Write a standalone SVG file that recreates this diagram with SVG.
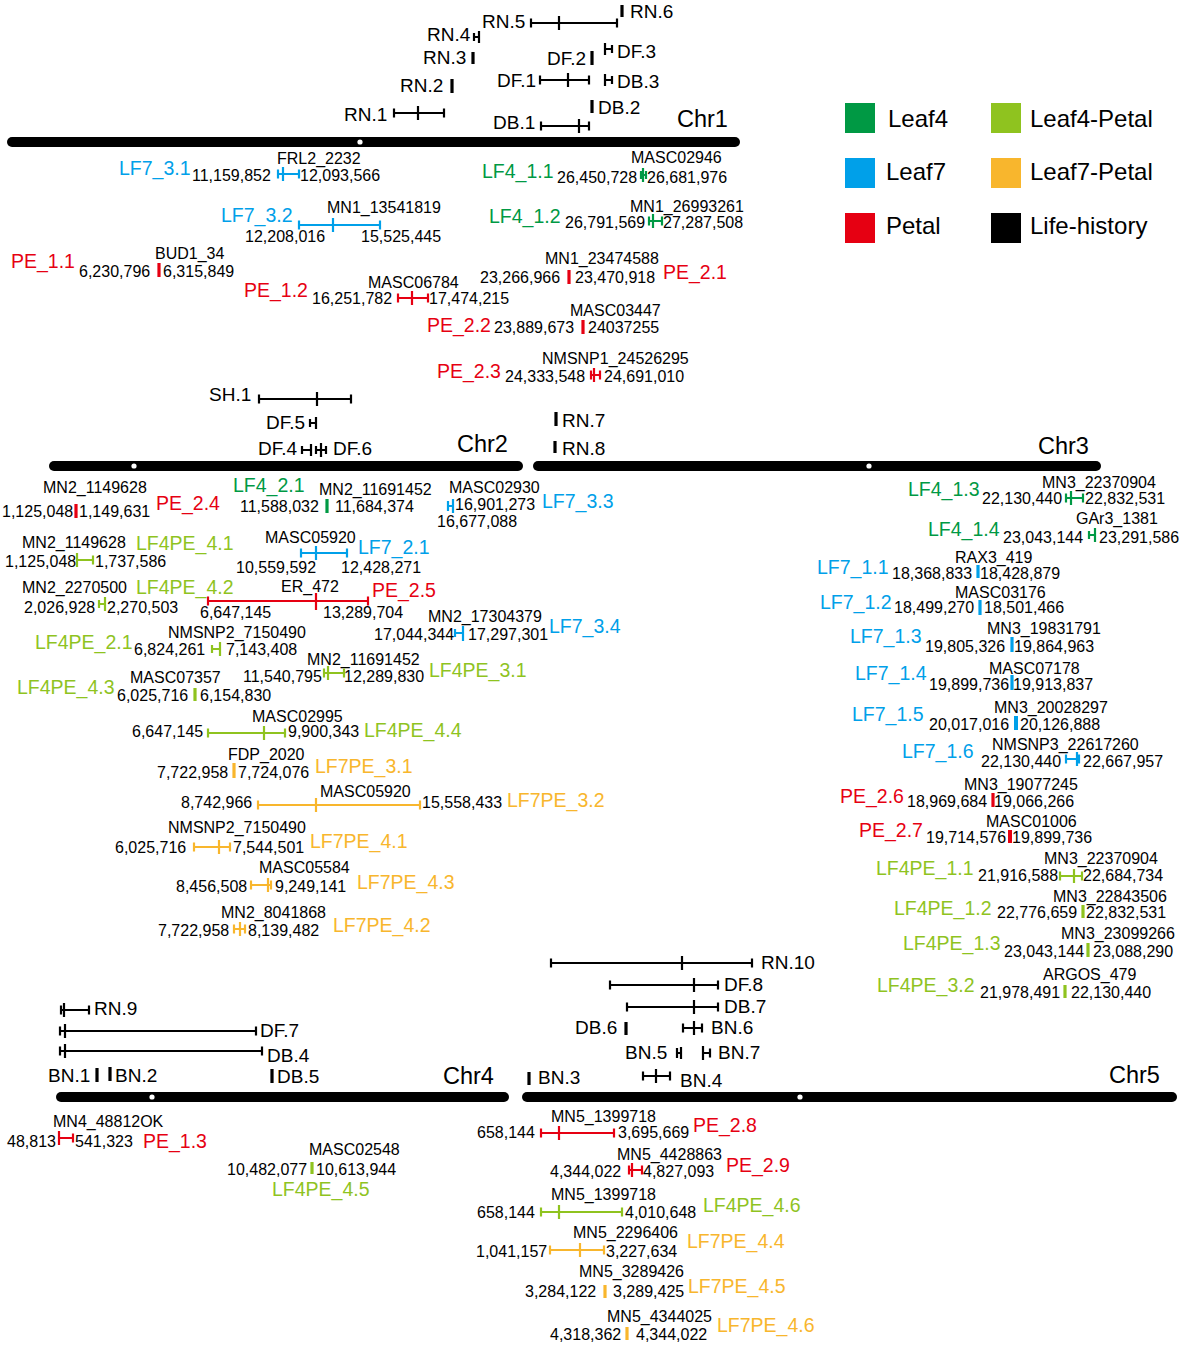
<svg xmlns="http://www.w3.org/2000/svg" width="1181" height="1345" viewBox="0 0 1181 1345">
<style>
text{font-family:"Liberation Sans",Arial,sans-serif}
.q{font-size:19px;fill:#000}
.l{font-size:19.5px}
.n{font-size:16px;fill:#000}
.c{font-size:23.5px;fill:#000}
.lg{font-size:24px;fill:#000}
.G{fill:#009944}.B{fill:#00A0E9}.R{fill:#E60012}.Y{fill:#8FC31F}.O{fill:#F8B62D}
path{fill:none;stroke-width:2.2}
.k{stroke:#000}.sg{stroke:#009944}.sb{stroke:#00A0E9}.sr{stroke:#E60012}.sy{stroke:#8FC31F}.so{stroke:#F8B62D}
.t{stroke-width:3.2}
.chr{fill:#000}
.cen{fill:#fff}
</style>
<rect width="1181" height="1345" fill="#fff"/>

<g id="legend">
<rect x="845" y="103" width="30" height="30" fill="#009944"/><text class="lg" x="888" y="127">Leaf4</text>
<rect x="845" y="158" width="30" height="30" fill="#00A0E9"/><text class="lg" x="886" y="180">Leaf7</text>
<rect x="845" y="213" width="30" height="30" fill="#E60012"/><text class="lg" x="886" y="234">Petal</text>
<rect x="991" y="103" width="30" height="30" fill="#8FC31F"/><text class="lg" x="1030" y="127">Leaf4-Petal</text>
<rect x="991" y="158" width="30" height="30" fill="#F8B62D"/><text class="lg" x="1030" y="180">Leaf7-Petal</text>
<rect x="991" y="213" width="30" height="30" fill="#000"/><text class="lg" x="1030" y="234">Life-history</text>
</g>

<g id="chromosomes">
<rect class="chr" x="7" y="137" width="733" height="10" rx="5"/><circle class="cen" cx="360" cy="142" r="2.6"/>
<text class="c" x="677" y="127">Chr1</text>
<rect class="chr" x="49" y="461" width="474" height="10" rx="5"/><circle class="cen" cx="134" cy="466" r="2.6"/>
<text class="c" x="457" y="452">Chr2</text>
<rect class="chr" x="533" y="461" width="568" height="10" rx="5"/><circle class="cen" cx="869" cy="466" r="2.6"/>
<text class="c" x="1038" y="454">Chr3</text>
<rect class="chr" x="56" y="1092" width="453" height="10" rx="5"/><circle class="cen" cx="152" cy="1097" r="2.6"/>
<text class="c" x="443" y="1084">Chr4</text>
<rect class="chr" x="522" y="1092" width="655" height="10" rx="5"/><circle class="cen" cx="800" cy="1097" r="2.6"/>
<text class="c" x="1109" y="1083">Chr5</text>
</g>

<!-- Chr1 life-history -->
<g id="RN.1"><path class="k" d="M394 113H444M394 108.5V117.5M444 108.5V117.5M418 106V120"/><text class="q" x="344" y="121">RN.1</text></g>
<g id="RN.2"><path class="k t" d="M452 79V93"/><text class="q" x="400" y="92">RN.2</text></g>
<g id="RN.3"><path class="k t" d="M473 52V64"/><text class="q" x="423" y="64">RN.3</text></g>
<g id="RN.4"><path class="k" d="M474 37H479M474 33V41M479 31V43"/><text class="q" x="427" y="41">RN.4</text></g>
<g id="RN.5"><path class="k" d="M531 23H617M531 18.5V27.5M617 18.5V27.5M559 16V30"/><text class="q" x="482" y="28">RN.5</text></g>
<g id="RN.6"><path class="k t" d="M622 5V17"/><text class="q" x="630" y="18">RN.6</text></g>
<g id="DF.1"><path class="k" d="M540 80H589M540 75.5V84.5M589 75.5V84.5M568 73V87"/><text class="q" x="497" y="87">DF.1</text></g>
<g id="DF.2"><path class="k t" d="M592 51V65"/><text class="q" x="547" y="65">DF.2</text></g>
<g id="DF.3"><path class="k" d="M605 49H612M605 43V55M612 45V53"/><text class="q" x="617" y="58">DF.3</text></g>
<g id="DB.3"><path class="k" d="M605 80H612M605 74V86M612 76V84"/><text class="q" x="617" y="88">DB.3</text></g>
<g id="DB.2"><path class="k t" d="M592 100V113"/><text class="q" x="598" y="114">DB.2</text></g>
<g id="DB.1"><path class="k" d="M541 126H589M541 121.5V130.5M589 121.5V130.5M579 119V133"/><text class="q" x="493" y="129">DB.1</text></g>

<!-- Chr1 trait QTL -->
<g id="LF7_3.1"><text class="l B" x="119" y="175">LF7_3.1</text><text class="n" x="192" y="181">11,159,852</text><text class="n" x="277" y="164">FRL2_2232</text><path class="sb" d="M278 174H299M278 169.5V178.5M299 169.5V178.5M283 167V181"/><text class="n" x="300" y="181">12,093,566</text></g>
<g id="LF4_1.1"><text class="l G" x="482" y="178">LF4_1.1</text><text class="n" x="557" y="183">26,450,728</text><text class="n" x="631" y="163">MASC02946</text><path class="sg" d="M641 175H646M641 171V179M646 171V179M643 168V182"/><text class="n" x="647" y="183">26,681,976</text></g>
<g id="LF7_3.2"><text class="l B" x="221" y="222">LF7_3.2</text><text class="n" x="327" y="213">MN1_13541819</text><path class="sb" d="M299 225H380M299 220.5V229.5M380 220.5V229.5M333 218V232"/><text class="n" x="245" y="242">12,208,016</text><text class="n" x="361" y="242">15,525,445</text></g>
<g id="LF4_1.2"><text class="l G" x="489" y="223">LF4_1.2</text><text class="n" x="565" y="228">26,791,569</text><text class="n" x="630" y="212">MN1_26993261</text><path class="sg" d="M649 221H662M649 216.5V225.5M662 216.5V225.5M653 214V228"/><text class="n" x="663" y="228">27,287,508</text></g>
<g id="PE_1.1"><text class="l R" x="11" y="268">PE_1.1</text><text class="n" x="155" y="259">BUD1_34</text><text class="n" x="79" y="277">6,230,796</text><path class="sr t" d="M159 263V277"/><text class="n" x="163" y="277">6,315,849</text></g>
<g id="PE_2.1"><text class="n" x="545" y="264">MN1_23474588</text><text class="n" x="480" y="283">23,266,966</text><path class="sr t" d="M569 270V284"/><text class="n" x="575" y="283">23,470,918</text><text class="l R" x="663" y="279">PE_2.1</text></g>
<g id="PE_1.2"><text class="l R" x="244" y="297">PE_1.2</text><text class="n" x="368" y="288">MASC06784</text><text class="n" x="312" y="304">16,251,782</text><path class="sr" d="M398 298H428M398 293.5V302.5M428 293.5V302.5M412 291V305"/><text class="n" x="429" y="304">17,474,215</text></g>
<g id="PE_2.2"><text class="l R" x="427" y="332">PE_2.2</text><text class="n" x="494" y="333">23,889,673</text><text class="n" x="570" y="316">MASC03447</text><path class="sr t" d="M583 320V334"/><text class="n" x="588" y="333">24037255</text></g>
<g id="PE_2.3"><text class="l R" x="437" y="378">PE_2.3</text><text class="n" x="542" y="364">NMSNP1_24526295</text><text class="n" x="505" y="382">24,333,548</text><path class="sr" d="M591 375H600M591 370.5V379.5M600 370.5V379.5M594 368V382"/><text class="n" x="604" y="382">24,691,010</text></g>

<!-- Chr2 life-history -->
<g id="SH.1"><path class="k" d="M259 399H351M259 394.5V403.5M351 394.5V403.5M317 392V406"/><text class="q" x="209" y="401">SH.1</text></g>
<g id="DF.5"><path class="k" d="M310 423H316M310 419V427M316 417V429"/><text class="q" x="266" y="429">DF.5</text></g>
<g id="DF.4"><path class="k" d="M302 450H311M302 446V454M311 444V456"/><text class="q" x="258" y="455">DF.4</text></g>
<g id="DF.6"><path class="k" d="M316 450H326M316 446V454M326 446V454M321 443V457"/><text class="q" x="333" y="455">DF.6</text></g>
<g id="RN.7"><path class="k t" d="M556 412V426"/><text class="q" x="562" y="427">RN.7</text></g>
<g id="RN.8"><path class="k t" d="M555 441V453"/><text class="q" x="562" y="455">RN.8</text></g>

<!-- Chr2 trait QTL -->
<g id="PE_2.4"><text class="n" x="43" y="493">MN2_1149628</text><text class="n" x="2" y="517">1,125,048</text><path class="sr t" d="M76 504V518"/><text class="n" x="79" y="517">1,149,631</text><text class="l R" x="156" y="510">PE_2.4</text></g>
<g id="LF4_2.1"><text class="l G" x="233" y="492">LF4_2.1</text><text class="n" x="319" y="495">MN2_11691452</text><text class="n" x="240" y="512">11,588,032</text><path class="sg t" d="M327 499V513"/><text class="n" x="335" y="512">11,684,374</text></g>
<g id="LF7_3.3"><text class="n" x="449" y="493">MASC02930</text><path class="sb" d="M448 506H453M448 501V511M453 499V513"/><text class="n" x="455" y="510">16,901,273</text><text class="n" x="437" y="527">16,677,088</text><text class="l B" x="542" y="508">LF7_3.3</text></g>
<g id="LF4PE_4.1"><text class="n" x="22" y="548">MN2_1149628</text><text class="l Y" x="136" y="550">LF4PE_4.1</text><text class="n" x="5" y="567">1,125,048</text><path class="sy" d="M77 560H93M77 553V567M93 555.5V564.5"/><text class="n" x="95" y="567">1,737,586</text></g>
<g id="LF7_2.1"><text class="n" x="265" y="543">MASC05920</text><path class="sb" d="M301 553H347M301 548.5V557.5M347 548.5V557.5M316 546V560"/><text class="n" x="236" y="573">10,559,592</text><text class="n" x="341" y="573">12,428,271</text><text class="l B" x="358" y="554">LF7_2.1</text></g>
<g id="LF4PE_4.2"><text class="n" x="22" y="593">MN2_2270500</text><text class="l Y" x="136" y="594">LF4PE_4.2</text><text class="n" x="24" y="613">2,026,928</text><path class="sy" d="M99 604H105M99 600V608M105 597V611"/><text class="n" x="107" y="613">2,270,503</text></g>
<g id="PE_2.5"><text class="n" x="281" y="592">ER_472</text><path class="sr" d="M208 601H368M208 596.5V605.5M368 596.5V605.5M316 593V610"/><text class="n" x="200" y="618">6,647,145</text><text class="n" x="323" y="618">13,289,704</text><text class="l R" x="372" y="597">PE_2.5</text></g>
<g id="LF7_3.4"><text class="n" x="428" y="622">MN2_17304379</text><text class="n" x="374" y="640">17,044,344</text><path class="sb" d="M455 633H463M455 629V637M463 626V641"/><text class="n" x="468" y="640">17,297,301</text><text class="l B" x="549" y="633">LF7_3.4</text></g>
<g id="LF4PE_2.1"><text class="l Y" x="35" y="649">LF4PE_2.1</text><text class="n" x="168" y="638">NMSNP2_7150490</text><text class="n" x="134" y="655">6,824,261</text><path class="sy" d="M212 649H220M212 645V653M220 642V656"/><text class="n" x="226" y="655">7,143,408</text></g>
<g id="LF4PE_3.1"><text class="n" x="307" y="665">MN2_11691452</text><text class="n" x="243" y="682">11,540,795</text><path class="sy" d="M324 673H344M324 668.5V677.5M344 668.5V677.5M328 666V680"/><text class="n" x="344" y="682">12,289,830</text><text class="l Y" x="429" y="677">LF4PE_3.1</text></g>
<g id="LF4PE_4.3"><text class="l Y" x="17" y="694">LF4PE_4.3</text><text class="n" x="130" y="683">MASC07357</text><text class="n" x="117" y="701">6,025,716</text><path class="sy t" d="M195 688V701"/><text class="n" x="200" y="701">6,154,830</text></g>
<g id="LF4PE_4.4"><text class="n" x="252" y="722">MASC02995</text><text class="n" x="132" y="737">6,647,145</text><path class="sy" d="M208 733H285M208 728.5V737.5M285 728.5V737.5M264 726V740"/><text class="n" x="288" y="737">9,900,343</text><text class="l Y" x="364" y="737">LF4PE_4.4</text></g>
<g id="LF7PE_3.1"><text class="n" x="228" y="760">FDP_2020</text><text class="n" x="157" y="778">7,722,958</text><path class="so t" d="M234 763V778"/><text class="n" x="238" y="778">7,724,076</text><text class="l O" x="315" y="773">LF7PE_3.1</text></g>
<g id="LF7PE_3.2"><text class="n" x="181" y="808">8,742,966</text><path class="so" d="M258 805H420M258 800.5V809.5M420 800.5V809.5M316 798V812"/><text class="n" x="320" y="797">MASC05920</text><text class="n" x="422" y="808">15,558,433</text><text class="l O" x="507" y="807">LF7PE_3.2</text></g>
<g id="LF7PE_4.1"><text class="n" x="168" y="833">NMSNP2_7150490</text><text class="n" x="115" y="853">6,025,716</text><path class="so" d="M194 847H230M194 842.5V851.5M230 842.5V851.5M219 840V854"/><text class="n" x="233" y="853">7,544,501</text><text class="l O" x="310" y="848">LF7PE_4.1</text></g>
<g id="LF7PE_4.3"><text class="n" x="259" y="873">MASC05584</text><text class="n" x="176" y="892">8,456,508</text><path class="so" d="M251 885H271M251 880.5V889.5M271 880.5V889.5M268 878V892"/><text class="n" x="275" y="892">9,249,141</text><text class="l O" x="357" y="889">LF7PE_4.3</text></g>
<g id="LF7PE_4.2"><text class="n" x="221" y="918">MN2_8041868</text><text class="n" x="158" y="936">7,722,958</text><path class="so" d="M234 929H245M234 924.5V933.5M245 924.5V933.5M240 922V936"/><text class="n" x="248" y="936">8,139,482</text><text class="l O" x="333" y="932">LF7PE_4.2</text></g>

<!-- Chr3 trait QTL -->
<g id="LF4_1.3"><text class="l G" x="908" y="496">LF4_1.3</text><text class="n" x="1042" y="488">MN3_22370904</text><text class="n" x="982" y="504">22,130,440</text><path class="sg" d="M1066 498H1083M1066 493.5V502.5M1083 493.5V502.5M1071 491V505"/><text class="n" x="1085" y="504">22,832,531</text></g>
<g id="LF4_1.4"><text class="l G" x="928" y="536">LF4_1.4</text><text class="n" x="1076" y="524">GAr3_1381</text><text class="n" x="1003" y="543">23,043,144</text><path class="sg" d="M1089 535H1095M1089 531V539M1095 528V542"/><text class="n" x="1099" y="543">23,291,586</text></g>
<g id="LF7_1.1"><text class="l B" x="817" y="574">LF7_1.1</text><text class="n" x="955" y="563">RAX3_419</text><text class="n" x="892" y="579">18,368,833</text><path class="sb t" d="M978 565V578"/><text class="n" x="980" y="579">18,428,879</text></g>
<g id="LF7_1.2"><text class="l B" x="820" y="609">LF7_1.2</text><text class="n" x="955" y="598">MASC03176</text><text class="n" x="894" y="613">18,499,270</text><path class="sb t" d="M980 600V615"/><text class="n" x="984" y="613">18,501,466</text></g>
<g id="LF7_1.3"><text class="l B" x="850" y="643">LF7_1.3</text><text class="n" x="987" y="634">MN3_19831791</text><text class="n" x="925" y="652">19,805,326</text><path class="sb t" d="M1012 637V652"/><text class="n" x="1014" y="652">19,864,963</text></g>
<g id="LF7_1.4"><text class="l B" x="855" y="680">LF7_1.4</text><text class="n" x="989" y="674">MASC07178</text><text class="n" x="929" y="690">19,899,736</text><path class="sb t" d="M1012 675V690"/><text class="n" x="1013" y="690">19,913,837</text></g>
<g id="LF7_1.5"><text class="l B" x="852" y="721">LF7_1.5</text><text class="n" x="994" y="713">MN3_20028297</text><text class="n" x="929" y="730">20,017,016</text><path class="sb" style="stroke-width:4" d="M1016 716V730"/><text class="n" x="1020" y="730">20,126,888</text></g>
<g id="LF7_1.6"><text class="l B" x="902" y="758">LF7_1.6</text><text class="n" x="992" y="750">NMSNP3_22617260</text><text class="n" x="981" y="767">22,130,440</text><path class="sb" d="M1066 759H1079M1066 754.5V763.5M1079 754.5V763.5M1077 752V766"/><text class="n" x="1083" y="767">22,667,957</text></g>
<g id="PE_2.6"><text class="l R" x="840" y="803">PE_2.6</text><text class="n" x="964" y="790">MN3_19077245</text><text class="n" x="907" y="807">18,969,684</text><path class="sr t" d="M993 793V807"/><text class="n" x="994" y="807">19,066,266</text></g>
<g id="PE_2.7"><text class="l R" x="859" y="837">PE_2.7</text><text class="n" x="986" y="827">MASC01006</text><text class="n" x="926" y="843">19,714,576</text><path class="sr" style="stroke-width:4" d="M1010 830V843"/><text class="n" x="1012" y="843">19,899,736</text></g>
<g id="LF4PE_1.1"><text class="l Y" x="876" y="875">LF4PE_1.1</text><text class="n" x="1044" y="864">MN3_22370904</text><text class="n" x="978" y="881">21,916,588</text><path class="sy" d="M1060 876H1082M1060 871.5V880.5M1082 871.5V880.5M1074 869V883"/><text class="n" x="1083" y="881">22,684,734</text></g>
<g id="LF4PE_1.2"><text class="l Y" x="894" y="915">LF4PE_1.2</text><text class="n" x="1053" y="902">MN3_22843506</text><text class="n" x="997" y="918">22,776,659</text><path class="sy t" d="M1083 905V918"/><text class="n" x="1086" y="918">22,832,531</text></g>
<g id="LF4PE_1.3"><text class="l Y" x="903" y="950">LF4PE_1.3</text><text class="n" x="1061" y="939">MN3_23099266</text><text class="n" x="1004" y="957">23,043,144</text><path class="sy t" d="M1088 943V957"/><text class="n" x="1093" y="957">23,088,290</text></g>
<g id="LF4PE_3.2"><text class="l Y" x="877" y="992">LF4PE_3.2</text><text class="n" x="1043" y="980">ARGOS_479</text><text class="n" x="980" y="998">21,978,491</text><path class="sy t" d="M1065 985V998"/><text class="n" x="1071" y="998">22,130,440</text></g>

<!-- Chr4 -->
<g id="RN.9"><path class="k" d="M61 1010H89M61 1005.5V1014.5M89 1005.5V1014.5M64 1003V1017"/><text class="q" x="94" y="1015">RN.9</text></g>
<g id="DF.7"><path class="k" d="M60 1031H256M60 1026.5V1035.5M256 1026.5V1035.5M65 1024V1038"/><text class="q" x="260" y="1037">DF.7</text></g>
<g id="DB.4"><path class="k" d="M60 1051H262M60 1046.5V1055.5M262 1046.5V1055.5M65 1044V1058"/><text class="q" x="267" y="1062">DB.4</text></g>
<g id="BN.1"><path class="k t" d="M97 1068V1082"/><text class="q" x="48" y="1082">BN.1</text></g>
<g id="BN.2"><path class="k t" d="M110 1067V1081"/><text class="q" x="115" y="1082">BN.2</text></g>
<g id="DB.5"><path class="k t" d="M272 1069V1083"/><text class="q" x="277" y="1083">DB.5</text></g>
<g id="PE_1.3"><text class="n" x="53" y="1127">MN4_48812OK</text><text class="n" x="7" y="1147">48,813</text><path class="sr" d="M59 1138H73M59 1131V1145M73 1133.5V1142.5"/><text class="n" x="75" y="1147">541,323</text><text class="l R" x="143" y="1148">PE_1.3</text></g>
<g id="LF4PE_4.5"><text class="n" x="309" y="1155">MASC02548</text><text class="n" x="227" y="1175">10,482,077</text><path class="sy t" d="M312 1162V1174"/><text class="n" x="316" y="1175">10,613,944</text><text class="l Y" x="272" y="1196">LF4PE_4.5</text></g>

<!-- Chr5 -->
<g id="RN.10"><path class="k" d="M551 963H752M551 958.5V967.5M752 958.5V967.5M682 956V970"/><text class="q" x="761" y="969">RN.10</text></g>
<g id="DF.8"><path class="k" d="M610 985H718M610 980.5V989.5M718 980.5V989.5M694 978V992"/><text class="q" x="724" y="991">DF.8</text></g>
<g id="DB.7"><path class="k" d="M627 1007H718M627 1002.5V1011.5M718 1002.5V1011.5M694 1000V1014"/><text class="q" x="724" y="1013">DB.7</text></g>
<g id="DB.6"><path class="k t" d="M626 1022V1035"/><text class="q" x="575" y="1034">DB.6</text></g>
<g id="BN.6"><path class="k" d="M683 1028H702M683 1023.5V1032.5M702 1023.5V1032.5M694 1021V1035"/><text class="q" x="711" y="1034">BN.6</text></g>
<g id="BN.5"><path class="k" d="M677 1053H681M677 1048V1058M681 1047V1059"/><text class="q" x="625" y="1059">BN.5</text></g>
<g id="BN.7"><path class="k" d="M703 1053H710M703 1046V1060M710 1048.5V1057.5"/><text class="q" x="718" y="1059">BN.7</text></g>
<g id="BN.3"><path class="k t" d="M529 1072V1085"/><text class="q" x="538" y="1084">BN.3</text></g>
<g id="BN.4"><path class="k" d="M643 1076H670M643 1071.5V1080.5M670 1071.5V1080.5M656 1069V1083"/><text class="q" x="680" y="1087">BN.4</text></g>
<g id="PE_2.8"><text class="n" x="551" y="1122">MN5_1399718</text><text class="n" x="477" y="1138">658,144</text><path class="sr" d="M541 1133H614M541 1128.5V1137.5M614 1128.5V1137.5M559 1126V1140"/><text class="n" x="618" y="1138">3,695,669</text><text class="l R" x="693" y="1132">PE_2.8</text></g>
<g id="PE_2.9"><text class="n" x="617" y="1160">MN5_4428863</text><text class="n" x="550" y="1177">4,344,022</text><path class="sr" d="M629 1170H642M629 1165.5V1174.5M642 1165.5V1174.5M632 1163V1177"/><text class="n" x="643" y="1177">4,827,093</text><text class="l R" x="726" y="1172">PE_2.9</text></g>
<g id="LF4PE_4.6"><text class="n" x="551" y="1200">MN5_1399718</text><text class="n" x="477" y="1218">658,144</text><path class="sy" d="M541 1212H622M541 1207.5V1216.5M622 1207.5V1216.5M559 1205V1219"/><text class="n" x="625" y="1218">4,010,648</text><text class="l Y" x="703" y="1212">LF4PE_4.6</text></g>
<g id="LF7PE_4.4"><text class="n" x="573" y="1238">MN5_2296406</text><text class="n" x="476" y="1257">1,041,157</text><path class="so" d="M550 1250H604M550 1245.5V1254.5M604 1245.5V1254.5M580 1243V1257"/><text class="n" x="606" y="1257">3,227,634</text><text class="l O" x="687" y="1248">LF7PE_4.4</text></g>
<g id="LF7PE_4.5"><text class="n" x="579" y="1277">MN5_3289426</text><text class="n" x="525" y="1297">3,284,122</text><path class="so t" d="M605 1285V1298"/><text class="n" x="613" y="1297">3,289,425</text><text class="l O" x="688" y="1293">LF7PE_4.5</text></g>
<g id="LF7PE_4.6"><text class="n" x="607" y="1322">MN5_4344025</text><text class="n" x="550" y="1340">4,318,362</text><path class="so t" d="M627 1327V1340"/><text class="n" x="636" y="1340">4,344,022</text><text class="l O" x="717" y="1332">LF7PE_4.6</text></g>
</svg>
